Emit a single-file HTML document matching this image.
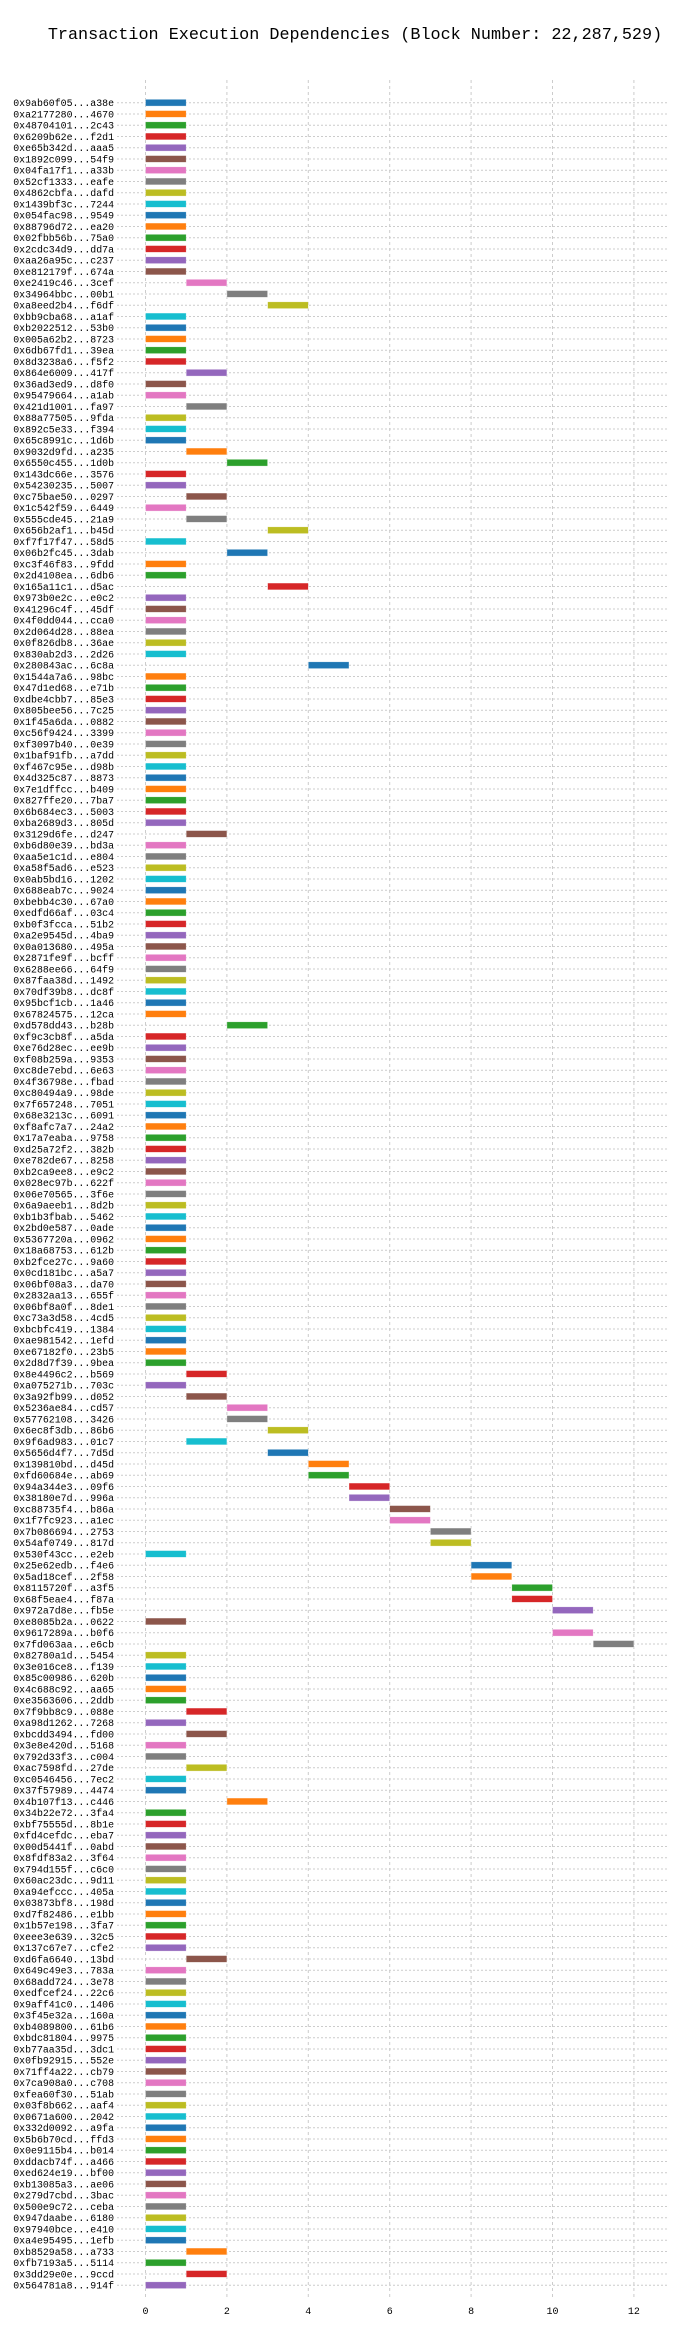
<!DOCTYPE html>
<html><head><meta charset="utf-8"><title>Transaction Execution Dependencies</title>
<style>
html,body{margin:0;padding:0;background:#fff;}
svg{display:block;font-family:"Liberation Mono","DejaVu Sans Mono",monospace;}
</style></head>
<body>
<svg id="chart" width="700" height="2340" viewBox="0 0 700 2340" xmlns="http://www.w3.org/2000/svg">
<text x="355" y="39" font-size="16.8" text-anchor="middle" fill="#000">Transaction Execution Dependencies (Block Number: 22,287,529)</text>
<g id="grid"></g><g id="bars"></g><g id="ylabels"></g><g id="xticks"></g>
</svg>
<script>
const txLabels = ["0x9ab60f05...a38e","0xa2177280...4670","0x48704101...2c43","0x6209b62e...f2d1","0xe65b342d...aaa5","0x1892c099...54f9","0x04fa17f1...a33b","0x52cf1333...eafe","0x4862cbfa...dafd","0x1439bf3c...7244","0x054fac98...9549","0x88796d72...ea20","0x02fbb56b...75a0","0x2cdc34d9...dd7a","0xaa26a95c...c237","0xe812179f...674a","0xe2419c46...3cef","0x34964bbc...00b1","0xa8eed2b4...f6df","0xbb9cba68...a1af","0xb2022512...53b0","0x005a62b2...8723","0x6db67fd1...39ea","0x8d3238a6...f5f2","0x864e6009...417f","0x36ad3ed9...d8f0","0x95479664...a1ab","0x421d1001...fa97","0x88a77505...9fda","0x892c5e33...f394","0x65c8991c...1d6b","0x9032d9fd...a235","0x6550c455...1d0b","0x143dc66e...3576","0x54230235...5007","0xc75bae50...0297","0x1c542f59...6449","0x555cde45...21a9","0x656b2af1...b45d","0xf7f17f47...58d5","0x06b2fc45...3dab","0xc3f46f83...9fdd","0x2d4108ea...6db6","0x165a11c1...d5ac","0x973b0e2c...e0c2","0x41296c4f...45df","0x4f0dd044...cca0","0x2d064d28...88ea","0x0f826db8...36ae","0x830ab2d3...2d26","0x280843ac...6c8a","0x1544a7a6...98bc","0x47d1ed68...e71b","0xdbe4cbb7...85e3","0x805bee56...7c25","0x1f45a6da...0882","0xc56f9424...3399","0xf3097b40...0e39","0x1baf91fb...a7dd","0xf467c95e...d98b","0x4d325c87...8873","0x7e1dffcc...b409","0x827ffe20...7ba7","0x6b684ec3...5003","0xba2689d3...805d","0x3129d6fe...d247","0xb6d80e39...bd3a","0xaa5e1c1d...e804","0xa58f5ad6...e523","0x0ab5bd16...1202","0x688eab7c...9024","0xbebb4c30...67a0","0xedfd66af...03c4","0xb0f3fcca...51b2","0xa2e9545d...4ba9","0x0a013680...495a","0x2871fe9f...bcff","0x6288ee66...64f9","0x87faa38d...1492","0x70df39b8...dc8f","0x95bcf1cb...1a46","0x67824575...12ca","0xd578dd43...b28b","0xf9c3cb8f...a5da","0xe76d28ec...ee9b","0xf08b259a...9353","0xc8de7ebd...6e63","0x4f36798e...fbad","0xc80494a9...98de","0x7f657248...7051","0x68e3213c...6091","0xf8afc7a7...24a2","0x17a7eaba...9758","0xd25a72f2...382b","0xe782de67...8258","0xb2ca9ee8...e9c2","0x028ec97b...622f","0x06e70565...3f6e","0x6a9aeeb1...8d2b","0xb1b3fbab...5462","0x2bd0e587...0ade","0x5367720a...0962","0x18a68753...612b","0xb2fce27c...9a60","0x0cd181bc...a5a7","0x06bf08a3...da70","0x2832aa13...655f","0x06bf8a0f...8de1","0xc73a3d58...4cd5","0xbcbfc419...1384","0xae981542...1efd","0xe67182f0...23b5","0x2d8d7f39...9bea","0x8e4496c2...b569","0xa075271b...703c","0x3a92fb99...d052","0x5236ae84...cd57","0x57762108...3426","0x6ec8f3db...86b6","0x9f6ad983...01c7","0x5656d4f7...7d5d","0x139810bd...d45d","0xfd60684e...ab69","0x94a344e3...09f6","0x38180e7d...996a","0xc88735f4...b86a","0x1f7fc923...a1ec","0x7b086694...2753","0x54af0749...817d","0x530f43cc...e2eb","0x25e62edb...f4e6","0x5ad18cef...2f58","0x8115720f...a3f5","0x68f5eae4...f87a","0x972a7d8e...fb5e","0xe8085b2a...0622","0x9617289a...b0f6","0x7fd063aa...e6cb","0x82780a1d...5454","0x3e016ce8...f139","0x85c00986...620b","0x4c688c92...aa65","0xe3563606...2ddb","0x7f9bb8c9...088e","0xa98d1262...7268","0xbcdd3494...fd00","0x3e8e420d...5168","0x792d33f3...c004","0xac7598fd...27de","0xc0546456...7ec2","0x37f57989...4474","0x4b107f13...c446","0x34b22e72...3fa4","0xbf75555d...8b1e","0xfd4cefdc...eba7","0x00d5441f...0abd","0x8fdf83a2...3f64","0x794d155f...c6c0","0x60ac23dc...9d11","0xa94efccc...405a","0x03873bf8...198d","0xd7f82486...e1bb","0x1b57e198...3fa7","0xeee3e639...32c5","0x137c67e7...cfe2","0xd6fa6640...13bd","0x649c49e3...783a","0x68add724...3e78","0xedfcef24...22c6","0x9aff41c0...1406","0x3f45e32a...160a","0xb4089800...61b6","0xbdc81804...9975","0xb77aa35d...3dc1","0x0fb92915...552e","0x71ff4a22...cb79","0x7ca908a0...c708","0xfea60f30...51ab","0x03f8b662...aaf4","0x0671a600...2042","0x332d0092...a9fa","0x5b6b70cd...ffd3","0x0e9115b4...b014","0xddacb74f...a466","0xed624e19...bf00","0xb13085a3...ae06","0x279d7cbd...3bac","0x500e9c72...ceba","0x947daabe...6180","0x97940bce...e410","0xa4e95495...1efb","0xb8529a58...a733","0xfb7193a5...5114","0x3dd29e0e...9ccd","0x564781a8...914f"];
const startSteps = [0,0,0,0,0,0,0,0,0,0,0,0,0,0,0,0,1,2,3,0,0,0,0,0,1,0,0,1,0,0,0,1,2,0,0,1,0,1,3,0,2,0,0,3,0,0,0,0,0,0,4,0,0,0,0,0,0,0,0,0,0,0,0,0,0,1,0,0,0,0,0,0,0,0,0,0,0,0,0,0,0,0,2,0,0,0,0,0,0,0,0,0,0,0,0,0,0,0,0,0,0,0,0,0,0,0,0,0,0,0,0,0,0,1,0,1,2,2,3,1,3,4,4,5,5,6,6,7,7,0,8,8,9,9,10,0,10,11,0,0,0,0,0,1,0,1,0,0,1,0,0,2,0,0,0,0,0,0,0,0,0,0,0,0,0,1,0,0,0,0,0,0,0,0,0,0,0,0,0,0,0,0,0,0,0,0,0,0,0,0,0,1,0,1,0,0];
const durations = txLabels.map(() => 1);
const xTickValues = [0,2,4,6,8,10,12];
const palette = ["#1f77b4","#ff7f0e","#2ca02c","#d62728","#9467bd","#8c564b","#e377c2","#7f7f7f","#bcbd22","#17becf"];

const NS = "http://www.w3.org/2000/svg";
const X0 = 145.5, UNIT = 40.7, Y0 = 102.7, ROW = 11.25;
const plotLeft = 117, plotRight = 668, plotTop = 80, plotBottom = 2300;
const xs = v => X0 + v * UNIT;
const ys = i => Y0 + i * ROW;
function mk(tag, attrs, parent) {
  const e = document.createElementNS(NS, tag);
  for (const k in attrs) e.setAttribute(k, attrs[k]);
  parent.appendChild(e);
  return e;
}
const grid = document.getElementById("grid");
const bars = document.getElementById("bars");
const ylab = document.getElementById("ylabels");
const xt = document.getElementById("xticks");

txLabels.forEach((lab, i) => {
  const y = ys(i);
  const gl = mk("line", {x1: plotLeft, x2: plotRight, y1: y, y2: y, stroke: "#cccccc", "stroke-width": 1, "stroke-dasharray": "2,2"}, grid);
  
  
  const t = mk("text", {x: 114, y: y + 3.5, "font-size": 9.9, "text-anchor": "end", fill: "#000"}, ylab);
  t.textContent = lab;
  
  
});
xTickValues.forEach(v => {
  const gl = mk("line", {x1: xs(v), x2: xs(v), y1: plotTop, y2: plotBottom, stroke: "#cccccc", "stroke-width": 1, "stroke-dasharray": "3,3"}, grid);
  
  
  const t = mk("text", {x: xs(v), y: 2314, "font-size": 10, "text-anchor": "middle", fill: "#000"}, xt);
  t.textContent = String(v);
  
  
});
txLabels.forEach((lab, i) => {
  const r = mk("rect", {x: xs(startSteps[i]), y: ys(i) - 3.4, width: durations[i] * UNIT, height: 6.8, fill: palette[i % 10], stroke: "#ffffff", "stroke-opacity": 0.6, "stroke-width": 0.6}, bars);
  
  
});
</script>
</body></html>
